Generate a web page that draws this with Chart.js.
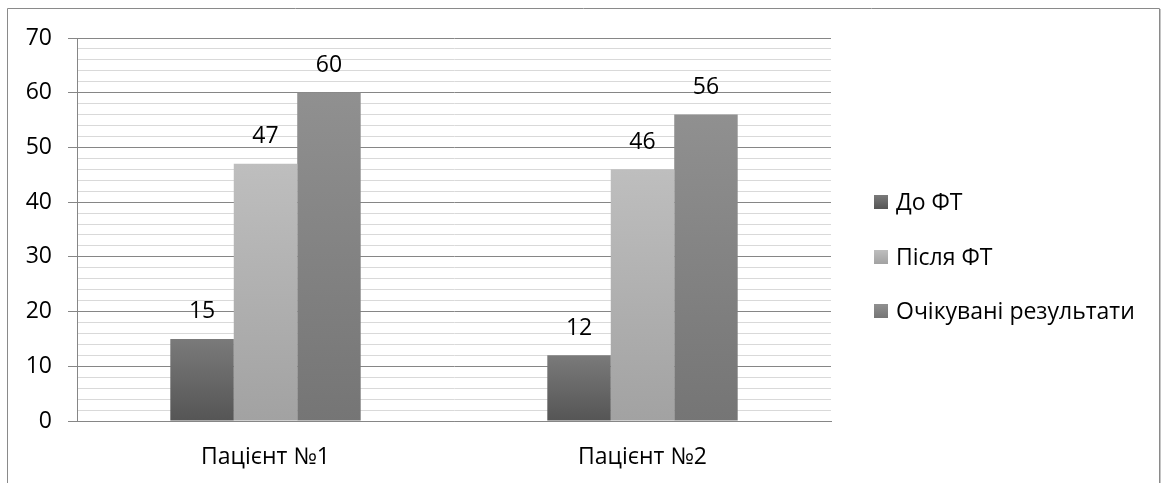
<!DOCTYPE html>
<html lang="uk">
<head>
<meta charset="utf-8">
<title>Пацієнти</title>
<script src="https://cdn.jsdelivr.net/npm/chart.js@4"></script>
<style>
  html, body { margin: 0; padding: 0; background: #ffffff; }
  #wrap { width: 1163px; height: 483px; position: relative; }
</style>
</head>
<body>
<div id="wrap"><canvas id="chart" width="1163" height="483"></canvas></div>
<script>
// Categories and series
const categories = ['Пацієнт №1', 'Пацієнт №2'];
const seriesNames = ['До ФТ', 'Після ФТ', 'Очікувані результати'];
const beforeFT = [15, 12];
const afterFT = [47, 46];
const expected = [60, 56];
const yTicks = [0, 10, 20, 30, 40, 50, 60, 70];

const FONT = '"Open Sans", "Liberation Sans", sans-serif';
const FONT_SIZE = 23;

// top / bottom shades of each series' vertical gradient
const shades = [
  ['#7a7a7a', '#555555'],
  ['#bebebe', '#a2a2a2'],
  ['#909090', '#757575']
];

function barFill(idx) {
  return (ctx) => {
    const chart = ctx.chart;
    const area = chart.chartArea;
    if (!area || ctx.type !== 'data' || !chart.scales.y) return shades[idx][1];
    const ys = chart.scales.y;
    const top = ys.getPixelForValue(ctx.raw);
    const bottom = ys.getPixelForValue(0);
    if (!isFinite(top) || !isFinite(bottom) || top === bottom) return shades[idx][1];
    const g = chart.ctx.createLinearGradient(0, top, 0, bottom);
    g.addColorStop(0, shades[idx][0]);
    g.addColorStop(1, shades[idx][1]);
    return g;
  };
}

// outer frame of the chart object
const framePlugin = {
  id: 'frame',
  beforeDraw(chart) {
    const c = chart.ctx;
    c.save();
    c.fillStyle = '#ffffff';
    c.fillRect(0, 0, chart.width, chart.height);
    c.strokeStyle = '#8a8a8a';
    c.lineWidth = 1;
    c.beginPath();
    c.moveTo(7.5, chart.height + 2);
    c.lineTo(7.5, 8.5);
    c.lineTo(1159.5, 8.5);
    c.lineTo(1159.5, chart.height + 2);
    c.stroke();
    c.strokeStyle = '#c4c4c4';
    c.beginPath();
    c.moveTo(1160.5, 9);
    c.lineTo(1160.5, chart.height + 2);
    c.stroke();
    c.restore();
  }
};

// value labels above each bar
const valueLabels = {
  id: 'valueLabels',
  afterDatasetsDraw(chart) {
    const c = chart.ctx;
    c.save();
    c.font = FONT_SIZE + 'px ' + FONT;
    c.fillStyle = '#000000';
    c.textAlign = 'center';
    c.textBaseline = 'middle';
    chart.data.datasets.forEach((ds, i) => {
      const meta = chart.getDatasetMeta(i);
      meta.data.forEach((bar, j) => {
        c.fillText(String(ds.data[j]), bar.x, bar.y - 27);
      });
    });
    c.restore();
  }
};

// legend column on the right
const sideLegend = {
  id: 'sideLegend',
  afterDraw(chart) {
    const c = chart.ctx;
    const rows = [202, 257, 311];
    c.save();
    c.font = FONT_SIZE + 'px ' + FONT;
    c.textAlign = 'left';
    c.textBaseline = 'middle';
    chart.data.datasets.forEach((ds, i) => {
      const cy = rows[i];
      const g = c.createLinearGradient(0, cy - 7, 0, cy + 7);
      g.addColorStop(0, shades[i][0]);
      g.addColorStop(1, shades[i][1]);
      c.fillStyle = g;
      c.fillRect(874, cy - 7, 14, 14);
      c.fillStyle = '#000000';
      c.fillText(ds.label, 896, cy + 1);
    });
    c.restore();
  }
};

const datasets = [beforeFT, afterFT, expected].map((vals, i) => ({
  label: seriesNames[i],
  data: vals,
  backgroundColor: barFill(i),
  borderWidth: 0,
  categoryPercentage: 0.505,
  barPercentage: 1.0
}));

new Chart(document.getElementById('chart'), {
  type: 'bar',
  data: { labels: categories, datasets },
  plugins: [framePlugin, valueLabels, sideLegend],
  options: {
    responsive: false,
    animation: false,
    events: [],
    layout: { padding: { top: 38, right: 332, bottom: 0, left: 0 } },
    plugins: {
      legend: { display: false },
      tooltip: { enabled: false },
      title: { display: false }
    },
    scales: {
      x: {
        grid: { display: false, drawTicks: false },
        border: { display: true, color: '#868686', width: 1 },
        ticks: {
          color: '#000000',
          font: { family: FONT, size: FONT_SIZE },
          padding: 23,
          maxRotation: 0
        },
        afterFit(scale) { scale.height = 62; }
      },
      y: {
        min: 0,
        max: 70,
        grid: {
          color: (ctx) => (ctx.tick && yTicks.includes(ctx.tick.value)) ? '#868686' : '#d9d9d9',
          tickColor: (ctx) => (ctx.tick && yTicks.includes(ctx.tick.value)) ? '#868686' : 'rgba(0,0,0,0)',
          tickLength: 9,
          lineWidth: 1
        },
        border: { display: true, color: '#868686', width: 1 },
        ticks: {
          stepSize: 2,
          autoSkip: false,
          color: '#000000',
          font: { family: FONT, size: FONT_SIZE },
          padding: 16,
          callback: (v) => yTicks.includes(v) ? String(v) : ''
        },
        afterFit(scale) { scale.width = 77; }
      }
    }
  }
});
</script>
</body>
</html>
